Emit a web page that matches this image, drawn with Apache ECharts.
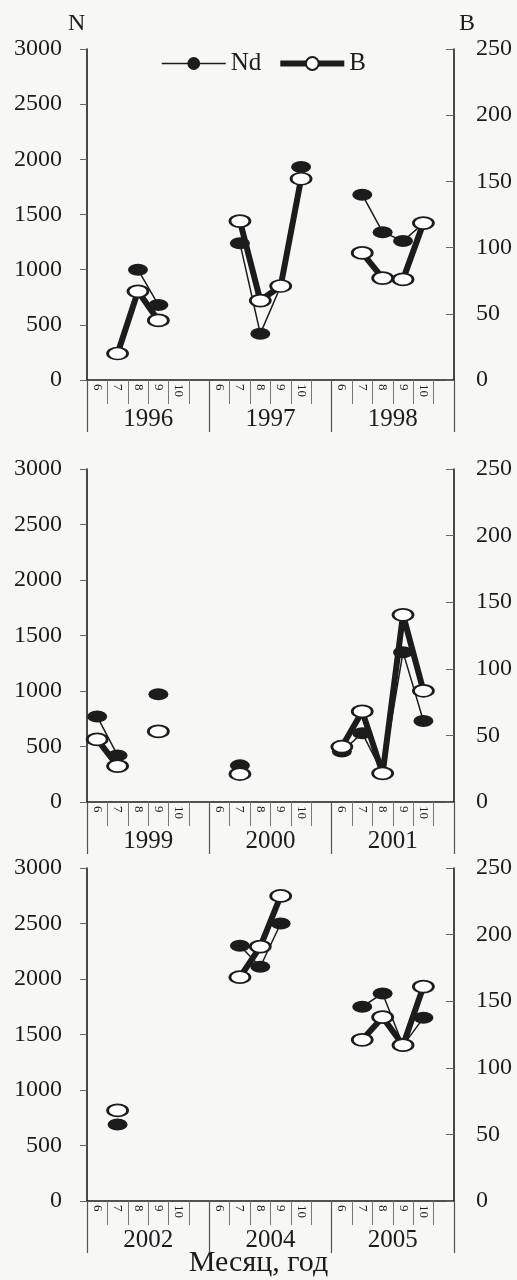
<!DOCTYPE html>
<html>
<head>
<meta charset="utf-8">
<script src="https://cdn.jsdelivr.net/npm/echarts@6/dist/echarts.min.js"></script>
<style>
  html, body { margin: 0; padding: 0; background: #f7f7f6; }
  #c { width: 517px; height: 1280px; }
</style>
</head>
<body>
<div id="c"></div>
<script>
// ---- data ----
const monthSlots = ['6','7','8','9','10','', '6','7','8','9','10','', '6','7','8','9','10',''];
const yearsA = ['1996','1997','1998'];
const yearsB = ['1999','2000','2001'];
const yearsC = ['2002','2004','2005'];

// N (left axis), per slot: months 6..10 + empty slot, three years per panel
const nd1 = [null, null, 1000, 680, null, null,   null, 1240, 420, 850, 1930, null,   null, 1680, 1340, 1260, 1420, null];
const b1  = [null, 20, 67, 45, null, null,        null, 120, 60, 71, 152, null,       null, 96, 77, 76, 118.5, null];

const nd2 = [770, 420, null, 970, null, null,     null, 330, null, null, null, null,  455, 620, 260, 1350, 730, null];
const b2  = [47, 27, null, 53, null, null,        null, 21, null, null, null, null,   41.5, 68, 21.5, 140.5, 83.5, null];

const nd3 = [null, 690, null, null, null, null,   null, 2300, 2110, 2500, null, null, null, 1750, 1870, 1400, 1650, null];
const b3  = [null, 68, null, null, null, null,    null, 168, 191, 229, null, null,    null, 121, 138, 117, 161, null];

const leftAxisMax = 3000, leftAxisStep = 500;
const rightAxisMax = 250, rightAxisStep = 50;

// ---- chart ----
const FONT = '"Liberation Serif","DejaVu Serif",serif';
const INK = '#1c1c1c';
const chart = echarts.init(document.getElementById('c'), null, { renderer: 'canvas' });

const panels = [
  { top: 49,  h: 331, years: yearsA, nd: nd1, b: b1 },
  { top: 469, h: 333, years: yearsB, nd: nd2, b: b2 },
  { top: 868, h: 333, years: yearsC, nd: nd3, b: b3 }
];

const plain = (v) => String(v);

const grid = [], xAxis = [], yAxis = [], series = [];
panels.forEach((p, i) => {
  grid.push({ left: 87, right: 63, top: p.top, height: p.h });
  xAxis.push({
    type: 'category', gridIndex: i, position: 'bottom', data: monthSlots, boundaryGap: true,
    axisLine: { show: true, lineStyle: { color: INK, width: 1.6 } },
    axisTick: { show: true, interval: (idx) => idx % 6 !== 0, length: 24, lineStyle: { color: '#777', width: 1 } },
    axisLabel: { interval: 0, rotate: -90, fontSize: 13, fontFamily: FONT, color: INK, margin: 4 }
  });
  xAxis.push({
    type: 'category', gridIndex: i, position: 'bottom', data: p.years, boundaryGap: true,
    axisLine: { show: false },
    axisTick: { show: true, interval: 0, length: 52, lineStyle: { color: '#555', width: 1.2 } },
    axisLabel: { interval: 0, fontSize: 25, fontFamily: FONT, color: INK, margin: 27 }
  });
  yAxis.push({
    type: 'value', gridIndex: i, position: 'left', min: 0, max: leftAxisMax, interval: leftAxisStep,
    axisLine: { show: true, lineStyle: { color: INK, width: 1.6 } },
    axisTick: { show: true, inside: false, length: 7, lineStyle: { color: '#666' } },
    axisLabel: { fontSize: 24, fontFamily: FONT, color: INK, margin: 25, formatter: plain },
    splitLine: { show: false }
  });
  yAxis.push({
    type: 'value', gridIndex: i, position: 'right', min: 0, max: rightAxisMax, interval: rightAxisStep,
    axisLine: { show: true, lineStyle: { color: INK, width: 1.6 } },
    axisTick: { show: true, inside: true, length: 8, lineStyle: { color: '#666' } },
    axisLabel: { fontSize: 24, fontFamily: FONT, color: INK, margin: 22, formatter: plain },
    splitLine: { show: false }
  });
  series.push({
    name: 'Nd', type: 'line', xAxisIndex: 2 * i, yAxisIndex: 2 * i, data: p.nd,
    connectNulls: false, showAllSymbol: true, symbol: 'circle', symbolSize: [20, 12],
    itemStyle: { color: INK, borderColor: INK, borderWidth: 0 },
    lineStyle: { color: INK, width: 1.5 },
    z: 2, emphasis: { disabled: true }
  });
  series.push({
    name: 'B', type: 'line', xAxisIndex: 2 * i, yAxisIndex: 2 * i + 1, data: p.b,
    connectNulls: false, showAllSymbol: true, symbol: 'circle', symbolSize: [20, 12],
    itemStyle: { color: '#ffffff', borderColor: INK, borderWidth: 2.2 },
    lineStyle: { color: INK, width: 6 },
    z: 3, emphasis: { disabled: true }
  });
});

chart.setOption({
  backgroundColor: '#f7f7f6',
  animation: false,
  grid, xAxis, yAxis, series,
  legend: {
    data: [
      { name: 'Nd', lineStyle: { width: 1.5, color: INK } },
      { name: 'B', lineStyle: { width: 6, color: INK } }
    ],
    left: 156, top: 46, itemWidth: 64, itemHeight: 16, itemGap: 16,
    textStyle: { fontSize: 25, fontFamily: FONT, color: INK },
    selectedMode: false
  },
  graphic: [
    { type: 'text', left: 68, top: 12, style: { text: 'N', font: '24px "Liberation Serif", serif', fill: INK } },
    { type: 'text', left: 459, top: 12, style: { text: 'B', font: '24px "Liberation Serif", serif', fill: INK } },
    { type: 'text', left: 'center', top: 1248, style: { text: 'Месяц, год', font: '30px "Liberation Serif", serif', fill: INK } }
  ]
});
</script>
</body>
</html>
